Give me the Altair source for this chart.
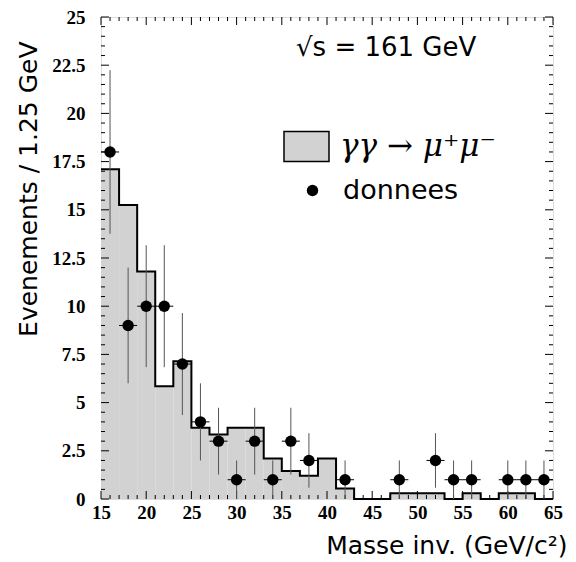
import altair as alt
import pandas as pd
import numpy as np

# ---- data ----
bin_lo = [15, 17, 19, 21, 23, 25, 27, 29, 31, 33, 35, 37, 39, 41, 43, 45, 47, 49, 51, 53, 55, 57, 59, 61, 63]
mc = [17.1, 15.25, 11.8, 5.85, 7.15, 3.7, 3.35, 3.7, 3.7, 2.1, 1.45, 1.2, 2.1, 0.55,
      0, 0, 0.3, 0.3, 0.3, 0, 0.3, 0, 0.3, 0.3, 0]
centers = [16, 18, 20, 22, 24, 26, 28, 30, 32, 34, 36, 38, 40, 42, 44, 46, 48, 50, 52, 54, 56, 58, 60, 62, 64]
counts = [18, 9, 10, 10, 7, 4, 3, 1, 3, 1, 3, 2, 0, 1, 0, 0, 1, 0, 2, 1, 1, 0, 1, 1, 1]
x_major = [15, 20, 25, 30, 35, 40, 45, 50, 55, 60, 65]
y_major = [0, 2.5, 5, 7.5, 10, 12.5, 15, 17.5, 20, 22.5, 25]

HIST_LABEL = "γγ → μ⁺μ⁻"
DATA_LABEL = "donnees"
ANNOTATION = ["√s = 161 GeV"]

W, H = 452, 482
BIN_W = 2

hist_df = pd.DataFrame({"lo": bin_lo, "hi": [b + BIN_W for b in bin_lo], "n": mc, "lab": HIST_LABEL})
step_df = pd.DataFrame({"lo": bin_lo + [bin_lo[-1] + BIN_W], "n": mc + [mc[-1]]})
pts = pd.DataFrame({"c": centers, "n": counts})
pts = pts[pts["n"] > 0].copy()
pts["err"] = np.sqrt(pts["n"])
pts["ylo"] = (pts["n"] - pts["err"]).clip(lower=0)
pts["yhi"] = pts["n"] + pts["err"]
pts["xl"] = pts["c"] - BIN_W / 2
pts["xh"] = pts["c"] + BIN_W / 2
pts["lab"] = DATA_LABEL

xs = alt.Scale(domain=[15, 65], nice=False, zero=False)
ys = alt.Scale(domain=[0, 25], nice=False, zero=False)

X_TITLE = "Masse inv. (GeV/c²)"
Y_TITLE = "Evenements / 1.25 GeV"

x_axis = alt.Axis(values=x_major, tickSize=0, domain=False, grid=False, labelFlush=False,
                  labelOverlap=False, labelFont="Liberation Serif", labelFontWeight="bold",
                  labelFontSize=19, labelPadding=4, labelColor="black",
                  title=X_TITLE, titleFont="DejaVu Sans", titleFontSize=25,
                  titleFontWeight="normal", titleColor="black", titleX=466, titleY=54,
                  titleAlign="right", titleBaseline="alphabetic", titleAnchor="start")
y_axis = alt.Axis(values=y_major, format=".3~g", tickSize=0, domain=False, grid=False, labelFlush=False,
                  labelOverlap=False, labelFont="Liberation Serif", labelFontWeight="bold",
                  labelFontSize=19, labelPadding=16, labelColor="black",
                  title=Y_TITLE, titleFont="DejaVu Sans", titleFontSize=25,
                  titleFontWeight="normal", titleColor="black", titleAngle=270, titleX=-65, titleY=24,
                  titleAlign="right", titleBaseline="alphabetic", titleAnchor="start")


def X(field):
    return alt.X(field, scale=xs, axis=x_axis, title=X_TITLE)


def Y(field):
    return alt.Y(field, scale=ys, axis=y_axis, title=Y_TITLE)


hist = alt.Chart(hist_df).mark_rect(strokeWidth=0).encode(
    x=X("lo:Q"),
    x2="hi:Q",
    y=Y("n:Q"),
    y2=alt.datum(0),
    fill=alt.Fill("lab:N", scale=alt.Scale(domain=[HIST_LABEL], range=["#d2d2d2"]),
                  legend=alt.Legend(title=None, orient="none", legendX=182, legendY=106,
                                    symbolType="M-1,-0.667H1V0.667H-1Z", symbolSize=2025,
                                    symbolStrokeColor="black", symbolStrokeWidth=1.5,
                                    labelFont="DejaVu Serif", labelFontStyle="italic",
                                    labelFontSize=31, labelColor="black", labelOffset=10,
                                    labelLimit=300, padding=0, symbolOffset=0)),
)

outline = alt.Chart(step_df).mark_line(interpolate="step-after", color="black", strokeWidth=2).encode(
    x=X("lo:Q"),
    y=Y("n:Q"),
)

vbars = alt.Chart(pts).mark_rule(color="#555555", strokeWidth=1).encode(
    x=X("c:Q"),
    y=Y("ylo:Q"),
    y2="yhi:Q",
)
hbars = alt.Chart(pts).mark_rule(color="black", strokeWidth=1).encode(
    x=X("xl:Q"),
    x2="xh:Q",
    y=Y("n:Q"),
)
dots = alt.Chart(pts).mark_point(filled=True, color="black", opacity=1, size=130).encode(
    x=X("c:Q"),
    y=Y("n:Q"),
    shape=alt.Shape("lab:N", scale=alt.Scale(domain=[DATA_LABEL], range=["circle"]),
                    legend=alt.Legend(title=None, orient="none", legendX=198, legendY=160,
                                      symbolSize=130, symbolFillColor="black",
                                      symbolStrokeColor="black", labelFont="DejaVu Sans",
                                      labelFontSize=27, labelColor="black", labelOffset=17,
                                      padding=0, symbolOffset=0)),
)

annot = alt.Chart(pd.DataFrame({"t": ANNOTATION})).mark_text(
    align="left", baseline="alphabetic", font="DejaVu Sans", fontSize=26, color="black"
).encode(text="t:N", x=alt.value(195), y=alt.value(39))

# inward ticks on all four sides
x_minor = [v for v in range(15, 66) if v % 5]
y_minor = [i * 0.5 for i in range(51) if i % 5]
tick_layers = []
for vals, ln in ((x_major, 8), (x_minor, 4)):
    d = pd.DataFrame({"lo": vals})
    tick_layers.append(alt.Chart(d).mark_rule(color="black", strokeWidth=1).encode(
        x=X("lo:Q"), y=alt.value(H), y2=alt.value(H - ln)))
    tick_layers.append(alt.Chart(d).mark_rule(color="black", strokeWidth=1).encode(
        x=X("lo:Q"), y=alt.value(0), y2=alt.value(ln)))
for vals, ln in ((y_major, 8), (y_minor, 4)):
    d = pd.DataFrame({"n": vals})
    tick_layers.append(alt.Chart(d).mark_rule(color="black", strokeWidth=1).encode(
        y=Y("n:Q"), x=alt.value(0), x2=alt.value(ln)))
    tick_layers.append(alt.Chart(d).mark_rule(color="black", strokeWidth=1).encode(
        y=Y("n:Q"), x=alt.value(W), x2=alt.value(W - ln)))

chart = alt.layer(hist, outline, *tick_layers, vbars, hbars, dots, annot).resolve_scale(
    fill="independent", shape="independent"
).properties(
    width=W, height=H,
    autosize=alt.AutoSizeParams(type="none"),
    padding={"left": 93, "top": 9, "right": 15, "bottom": 61},
).configure_view(stroke="black", strokeWidth=2).configure(background="white")

chart.save("out.html", embed_options={"renderer": "svg", "actions": False})
